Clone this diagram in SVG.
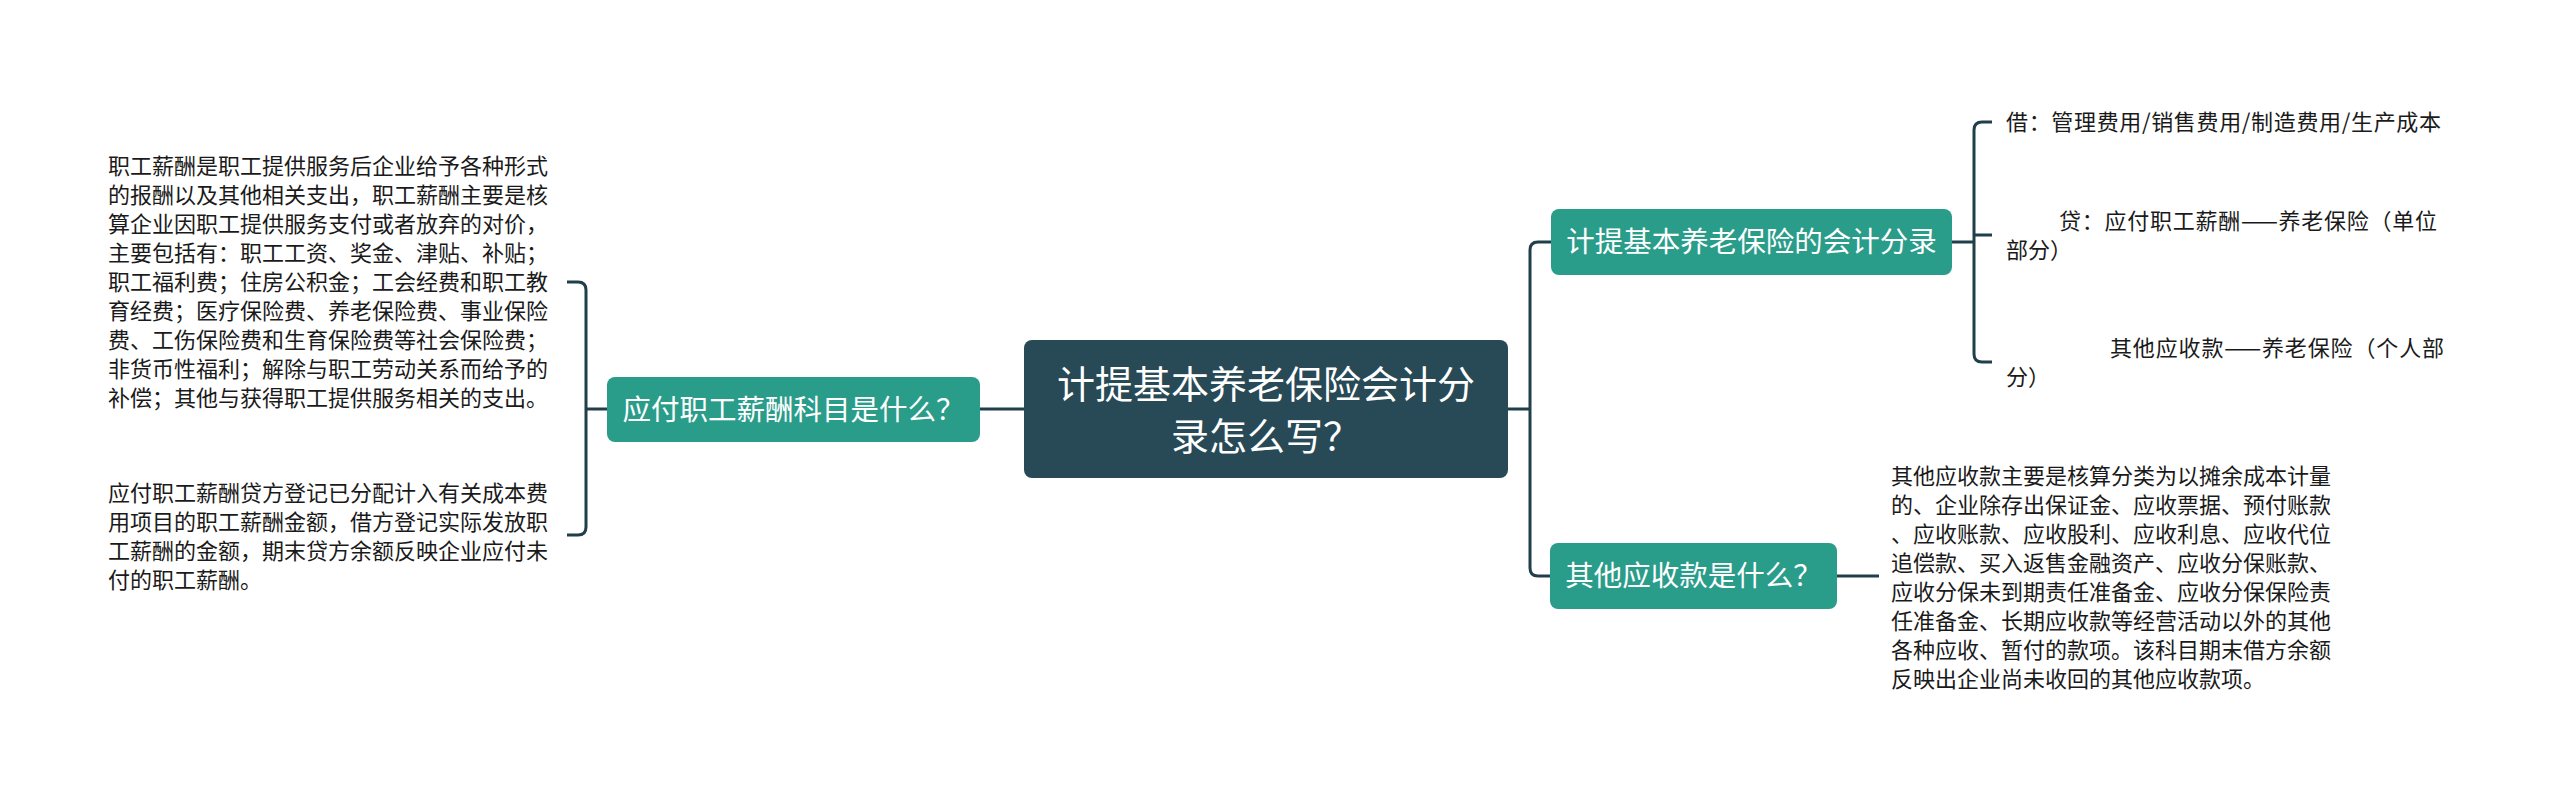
<svg xmlns="http://www.w3.org/2000/svg" width="2560" height="799" viewBox="0 0 2560 799">
<style>
.conn{fill:none;stroke:#213f4b;stroke-width:3;stroke-linecap:butt}
.main{fill:#274a56}
.sub{fill:#2a9c8a}
.nt{font-family:"Noto Sans CJK SC","Noto Sans",sans-serif;fill:#ffffff;text-anchor:middle}
.lf{font-family:"Noto Sans CJK SC","Noto Sans",sans-serif;font-size:22px;fill:#1a1a1a}
</style>
<rect width="2560" height="799" fill="#ffffff"/>
<g id="connectors">
<path class="conn" d="M1024 409 H980"/>
<path class="conn" d="M607 409 H586"/>
<path class="conn" d="M567 282 H578 Q586 282 586 290 V527 Q586 535 578 535 H567"/>
<path class="conn" d="M1508 409 H1530"/>
<path class="conn" d="M1551 242 H1538 Q1530 242 1530 250 V568 Q1530 576 1538 576 H1550"/>
<path class="conn" d="M1952 242 H1974"/>
<path class="conn" d="M1992 122 H1982 Q1974 122 1974 130 V354 Q1974 362 1982 362 H1992"/>
<path class="conn" d="M1974 235 H1992"/>
<path class="conn" d="M1837 576 H1879"/>
</g>
<g id="center">
<rect class="main" x="1024" y="340" width="484" height="138" rx="8"/>
<text class="nt" font-size="38" x="1266" y="398">计提基本养老保险会计分</text>
<text class="nt" font-size="38" x="1266" y="450">录怎么写？</text>
</g>
<g id="node-left">
<rect class="sub" x="607" y="377" width="373" height="65" rx="8"/>
<text class="nt" font-size="28.5" x="793.5" y="419.5">应付职工薪酬科目是什么？</text>
</g>
<g id="node-right-top">
<rect class="sub" x="1551" y="209" width="401" height="66" rx="8"/>
<text class="nt" font-size="28.5" x="1751.5" y="252">计提基本养老保险的会计分录</text>
</g>
<g id="node-right-bottom">
<rect class="sub" x="1550" y="543" width="287" height="66" rx="8"/>
<text class="nt" font-size="28.5" x="1693.5" y="586">其他应收款是什么？</text>
</g>
<g id="leaf-left-1">
<text class="lf" x="108" y="174">职工薪酬是职工提供服务后企业给予各种形式</text>
<text class="lf" x="108" y="203">的报酬以及其他相关支出，职工薪酬主要是核</text>
<text class="lf" x="108" y="232">算企业因职工提供服务支付或者放弃的对价，</text>
<text class="lf" x="108" y="261">主要包括有：职工工资、奖金、津贴、补贴；</text>
<text class="lf" x="108" y="290">职工福利费；住房公积金；工会经费和职工教</text>
<text class="lf" x="108" y="319">育经费；医疗保险费、养老保险费、事业保险</text>
<text class="lf" x="108" y="348">费、工伤保险费和生育保险费等社会保险费；</text>
<text class="lf" x="108" y="377">非货币性福利；解除与职工劳动关系而给予的</text>
<text class="lf" x="108" y="406">补偿；其他与获得职工提供服务相关的支出。</text>
</g>
<g id="leaf-left-2">
<text class="lf" x="108" y="500.5">应付职工薪酬贷方登记已分配计入有关成本费</text>
<text class="lf" x="108" y="529.5">用项目的职工薪酬金额，借方登记实际发放职</text>
<text class="lf" x="108" y="558.5">工薪酬的金额，期末贷方余额反映企业应付未</text>
<text class="lf" x="108" y="587.5">付的职工薪酬。</text>
</g>
<g id="leaf-right-1">
<text class="lf" x="2006" y="130" textLength="435" lengthAdjust="spacing">借：管理费用/销售费用/制造费用/生产成本</text>
</g>
<g id="leaf-right-2">
<text class="lf" x="2059" y="229" textLength="378" lengthAdjust="spacing">贷：应付职工薪酬——养老保险（单位</text>
<text class="lf" x="2006" y="258">部分）</text>
</g>
<g id="leaf-right-3">
<text class="lf" x="2110" y="356" textLength="334" lengthAdjust="spacing">其他应收款——养老保险（个人部</text>
<text class="lf" x="2006" y="385">分）</text>
</g>
<g id="leaf-right-4">
<text class="lf" x="1891" y="483.5">其他应收款主要是核算分类为以摊余成本计量</text>
<text class="lf" x="1891" y="512.5">的、企业除存出保证金、应收票据、预付账款</text>
<text class="lf" x="1891" y="541.5">、应收账款、应收股利、应收利息、应收代位</text>
<text class="lf" x="1891" y="570.5">追偿款、买入返售金融资产、应收分保账款、</text>
<text class="lf" x="1891" y="599.5">应收分保未到期责任准备金、应收分保保险责</text>
<text class="lf" x="1891" y="628.5">任准备金、长期应收款等经营活动以外的其他</text>
<text class="lf" x="1891" y="657.5">各种应收、暂付的款项。该科目期末借方余额</text>
<text class="lf" x="1891" y="686.5">反映出企业尚未收回的其他应收款项。</text>
</g>
</svg>
